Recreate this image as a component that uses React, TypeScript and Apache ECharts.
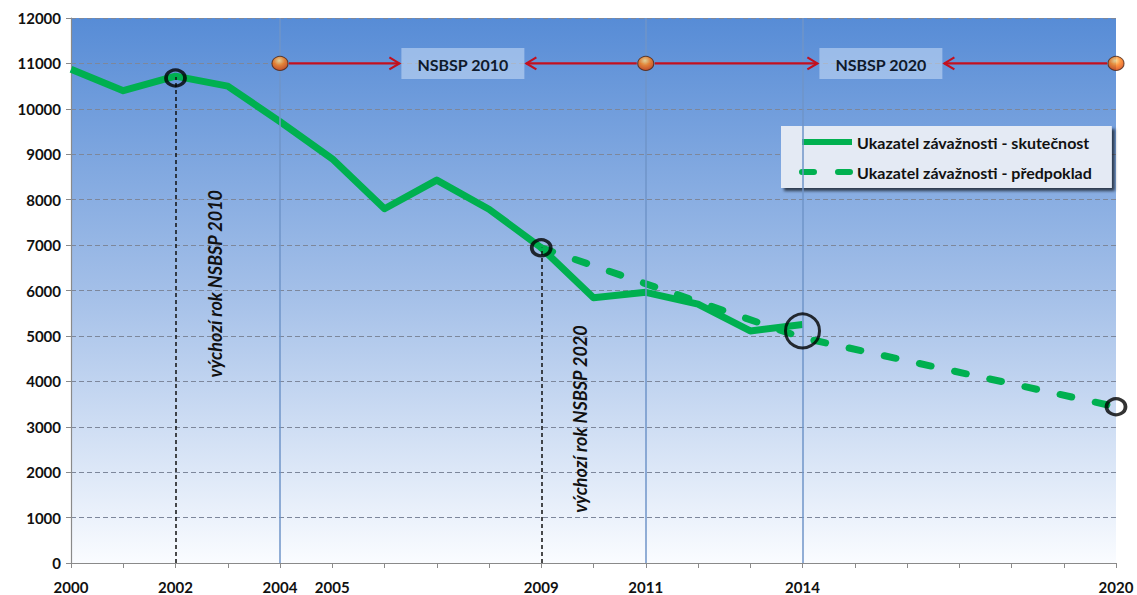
import { useEffect, useRef } from "react";
import * as echarts from "echarts";

// Ukazatel závažnosti – skutečný vývoj
const actualYears = [2000, 2001, 2002, 2003, 2004, 2005, 2006, 2007, 2008, 2009, 2010, 2011, 2012, 2013, 2014];
const actualValues = [10870, 10400, 10720, 10500, 9720, 8900, 7800, 8430, 7790, 6940, 5840, 5960, 5700, 5110, 5250];

// Ukazatel závažnosti – předpoklad
const forecastYears = [2009, 2014, 2020];
const forecastValues = [6940, 4960, 3440];

// Popisky osy X
const xLabelYears = [2000, 2002, 2004, 2005, 2009, 2011, 2014, 2020];
const yTickValues = [0, 1000, 2000, 3000, 4000, 5000, 6000, 7000, 8000, 9000, 10000, 11000, 12000];

// Svislé čáry period
const periodLineYears = [2004, 2011, 2014];

// Výchozí roky strategií
const baseYears = [2002, 2009];
const baseValues = [10700, 6940];
const baseLabels = ["výchozí rok NSBSP 2010", "výchozí rok NSBSP 2020"];
const baseLabelYears = [2002.76, 2009.74];
const baseLabelValues = [6150, 3170];

// Milníky a programová období
const milestoneYears = [2004, 2011, 2020];
const milestoneLevel = 11000;
const programmeNames = ["NSBSP 2010", "NSBSP 2020"];
const programmeStart = [2004, 2011];
const programmeEnd = [2011, 2020];

// Zvýrazněné body
const ringYears = [2002, 2009, 2020];
const ringValues = [10680, 6940, 3440];
const bigRingYears = [2014];
const bigRingValues = [5110];

const FONT = "Lato, 'Noto Sans', sans-serif";
const GREEN = "#00b050";

export default function App() {
  const ref = useRef<HTMLDivElement>(null);

  useEffect(() => {
    if (!ref.current) return;
    const chart = echarts.init(ref.current, undefined, { renderer: "svg" });

    const actualData = actualYears.map((y, i) => [y, actualValues[i]]);
    const forecastData = forecastYears.map((y, i) => [y, forecastValues[i]]);
    const programmeData = programmeNames.map((_, i) => [programmeStart[i], programmeEnd[i], milestoneLevel]);
    const baseLabelData = baseLabels.map((_, i) => [baseLabelYears[i], baseLabelValues[i]]);

    const option: any = {
      animation: false,
      grid: {
        left: 71,
        right: 21,
        top: 18,
        bottom: 32,
        show: true,
        borderWidth: 0,
        backgroundColor: new echarts.graphic.LinearGradient(0, 0, 0, 1, [
          { offset: 0, color: "#578cd6" },
          { offset: 0.5, color: "#a3bfe8" },
          { offset: 1, color: "#fafcff" },
        ]),
      },
      legend: {
        orient: "vertical",
        left: 781,
        top: 126,
        padding: [8, 20, 8, 18],
        itemWidth: 50,
        itemHeight: 14,
        itemGap: 14,
        backgroundColor: "#e4eaf4",
        shadowColor: "rgba(0,0,0,0.65)",
        shadowBlur: 3,
        shadowOffsetX: 3,
        shadowOffsetY: 3,
        selectedMode: false,
        itemStyle: { opacity: 0 },
        lineStyle: { width: 6 },
        textStyle: { fontFamily: FONT, fontWeight: "bold", fontSize: 16, color: "#111" },
        data: ["Ukazatel závažnosti - skutečnost", "Ukazatel závažnosti - předpoklad"],
      },
      xAxis: {
        type: "value",
        min: 2000,
        max: 2020,
        interval: 1,
        axisLine: { lineStyle: { color: "#8a8a8a", width: 1.2 } },
        axisTick: { show: true, length: 5, lineStyle: { color: "#8a8a8a" } },
        axisLabel: {
          margin: 16,
          fontFamily: FONT,
          fontWeight: "bold",
          fontSize: 15,
          color: "#111",
          formatter: (v: number) => (xLabelYears.includes(v) ? String(v) : ""),
        },
        splitLine: { show: false },
      },
      yAxis: {
        type: "value",
        min: yTickValues[0],
        max: yTickValues[yTickValues.length - 1],
        interval: 1000,
        axisLine: { show: true, lineStyle: { color: "#8a8a8a", width: 1.2 } },
        axisTick: { show: true, length: 5, lineStyle: { color: "#8a8a8a" } },
        axisLabel: {
          margin: 10,
          fontFamily: FONT,
          fontWeight: "bold",
          fontSize: 15,
          color: "#111",
          formatter: (v: number) => String(v),
        },
        splitLine: { show: true, lineStyle: { color: "#7d879b", width: 1, type: [5, 3] } },
      },
      series: [
        {
          name: "periods",
          type: "line",
          data: [],
          z: 1,
          silent: true,
          markLine: {
            silent: true,
            symbol: "none",
            label: { show: false },
            lineStyle: { color: "#6f94c8", width: 1.5, type: "solid" },
            data: periodLineYears.map((y) => ({ xAxis: y })),
          },
        },
        {
          name: "base",
          type: "line",
          data: [],
          z: 2,
          silent: true,
          markLine: {
            silent: true,
            symbol: "none",
            label: { show: false },
            lineStyle: { color: "#111", width: 1.5, type: [4, 3] },
            data: baseYears.map((y, i) => [{ coord: [y, 0] }, { coord: [y, baseValues[i]] }]),
          },
        },
        {
          name: "Ukazatel závažnosti - skutečnost",
          type: "line",
          data: actualData,
          symbol: "none",
          z: 4,
          color: GREEN,
          lineStyle: { color: GREEN, width: 7, join: "round" },
        },
        {
          name: "Ukazatel závažnosti - předpoklad",
          type: "line",
          data: forecastData,
          symbol: "none",
          z: 3,
          color: GREEN,
          lineStyle: { color: GREEN, width: 7, type: [12, 24], cap: "round" },
        },
        {
          name: "rings",
          type: "scatter",
          data: ringYears.map((y, i) => [y, ringValues[i]]),
          symbol: "circle",
          symbolSize: [19, 16],
          z: 6,
          silent: true,
          itemStyle: { color: "rgba(0,0,0,0)", borderColor: "#000", borderWidth: 3.5 },
        },
        {
          name: "bigRing",
          type: "scatter",
          data: bigRingYears.map((y, i) => [y, bigRingValues[i]]),
          symbol: "circle",
          symbolSize: 34,
          z: 6,
          silent: true,
          itemStyle: { color: "rgba(0,0,0,0)", borderColor: "#000", borderWidth: 3 },
        },
        {
          name: "programmes",
          type: "custom",
          data: programmeData,
          z: 7,
          silent: true,
          renderItem: (params: any, api: any) => {
            const a = api.coord([api.value(0), api.value(2)]);
            const b = api.coord([api.value(1), api.value(2)]);
            const cx = (a[0] + b[0]) / 2;
            const cy = a[1];
            const bw = 123;
            const bh = 31;
            const left = cx - bw / 2;
            const right = cx + bw / 2;
            const tipL = left - 2;
            const tipR = right + 2;
            const head = 10;
            const half = 6;
            const red = "#c3101e";
            const arrowStyle = { stroke: red, lineWidth: 2.2, fill: null };
            return {
              type: "group",
              children: [
                { type: "line", shape: { x1: a[0] + 9, y1: cy, x2: tipL, y2: cy }, style: arrowStyle },
                {
                  type: "polyline",
                  shape: { points: [[tipL - head, cy - half], [tipL, cy], [tipL - head, cy + half]] },
                  style: arrowStyle,
                },
                { type: "line", shape: { x1: b[0] - 9, y1: cy, x2: tipR, y2: cy }, style: arrowStyle },
                {
                  type: "polyline",
                  shape: { points: [[tipR + head, cy - half], [tipR, cy], [tipR + head, cy + half]] },
                  style: arrowStyle,
                },
                {
                  type: "rect",
                  shape: { x: left, y: cy - bh / 2, width: bw, height: bh },
                  style: { fill: "rgba(214,230,250,0.5)" },
                },
                {
                  type: "text",
                  x: cx,
                  y: cy + 1,
                  style: {
                    text: programmeNames[params.dataIndex],
                    font: `bold 16px ${FONT}`,
                    fill: "#0f1a2c",
                    align: "center",
                    verticalAlign: "middle",
                  },
                },
              ],
            };
          },
        },
        {
          name: "milestones",
          type: "scatter",
          data: milestoneYears.map((y) => [y, milestoneLevel]),
          symbol: "circle",
          symbolSize: [16, 14],
          z: 8,
          silent: true,
          itemStyle: {
            color: new echarts.graphic.RadialGradient(0.45, 0.3, 0.75, [
              { offset: 0, color: "#ffe08a" },
              { offset: 0.45, color: "#ff7d12" },
              { offset: 1, color: "#d23300" },
            ]),
            borderColor: "#4a2614",
            borderWidth: 1,
          },
        },
        {
          name: "baseLabels",
          type: "custom",
          data: baseLabelData,
          z: 7,
          silent: true,
          renderItem: (params: any, api: any) => {
            const p = api.coord([api.value(0), api.value(1)]);
            return {
              type: "text",
              x: p[0],
              y: p[1],
              rotation: Math.PI / 2,
              style: {
                text: baseLabels[params.dataIndex],
                font: `italic bold 18px ${FONT}`,
                fill: "#111",
                align: "center",
                verticalAlign: "middle",
              },
            };
          },
        },
      ],
    };

    chart.setOption(option);
    return () => chart.dispose();
  }, []);

  return (
    <div
      ref={ref}
      style={{ position: "absolute", left: 0, top: 0, width: 1137, height: 595, background: "#fff" }}
    />
  );
}
